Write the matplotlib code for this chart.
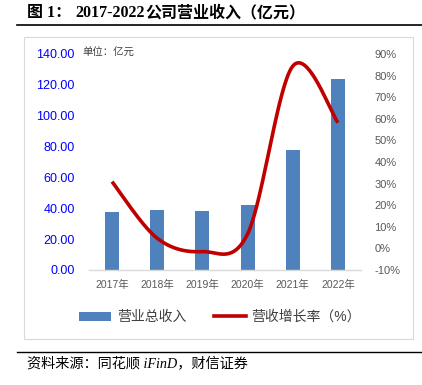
import numpy as np
import matplotlib
matplotlib.use("Agg")
import matplotlib.pyplot as plt
from matplotlib.lines import Line2D
from matplotlib.patches import Patch, Rectangle

years = ['2017年', '2018年', '2019年', '2020年', '2021年', '2022年']
revenue = [37.4, 39.1, 38.2, 42.1, 77.8, 123.6]
growth = [30.9, 4.7, -1.5, 6.7, 84.4, 58.2]
left_ticks = [0, 20, 40, 60, 80, 100, 120, 140]
right_ticks = [-10, 0, 10, 20, 30, 40, 50, 60, 70, 80, 90]

CJK = ['Liberation Sans', 'Noto Sans CJK SC']
SERIF = ['Liberation Serif', 'Noto Sans CJK SC']
plt.rcParams['font.family'] = CJK

W, H = 422, 385
fig = plt.figure(figsize=(W / 100, H / 100), dpi=100)

def fx(px):
    return px / W

def fy(py):
    return 1 - py / H

# title (in pieces to match spacing)
tkw = dict(fontsize=11.5, fontweight='bold', family=SERIF, va='center', ha='left', color='black')
fig.text(fx(27), fy(13), '图 1：', **tkw)
fig.text(fx(75), fy(13), '2017-2022', **tkw)
fig.text(fx(145), fy(13), '公司营业收入（亿元）', **tkw)
fig.add_artist(Line2D([fx(17), fx(422)], [fy(25), fy(25)], color='black', lw=1.2))
# chart frame
fig.add_artist(Rectangle((fx(24), fy(339)), fx(413) - fx(24), fy(37) - fy(339),
                         fill=False, edgecolor='#d9d9d9', lw=0.8))
# bottom line and source
fig.add_artist(Line2D([fx(17), fx(422)], [fy(352), fy(352)], color='black', lw=1.0))
fig.text(fx(27), fy(364), '资料来源：同花顺 iFinD，财信证券', fontsize=10.2, style='italic',
         family=SERIF, va='center', ha='left', color='black')

ax = fig.add_axes([fx(89.4), fy(270), fx(360.6) - fx(89.4), fy(54) - fy(270)])
x = np.arange(len(years))
ax.bar(x, revenue, width=0.31, color='#4F81BD', zorder=2)
ax.set_xlim(-0.5, len(years) - 0.5)
ax.set_ylim(0, 140)
ax.set_yticks(left_ticks)
ax.set_yticklabels([f'{v:.2f}' for v in left_ticks], color='#0000FF', fontsize=9)
ax.set_xticks(x)
ax.set_xticklabels(years, color='#595959', fontsize=7.5)
ax.tick_params(axis='y', length=0, pad=10.5)
ax.tick_params(axis='x', length=0, pad=7)
for s in ['top', 'left', 'right']:
    ax.spines[s].set_visible(False)
ax.spines['bottom'].set_color('#d9d9d9')
ax.spines['bottom'].set_linewidth(1.0)
ax.patch.set_alpha(0)

ax2 = ax.twinx()
ax2.set_ylim(-10, 90)
ax2.set_yticks(right_ticks)
ax2.set_yticklabels([f'{v}%' for v in right_ticks], color='#595959', fontsize=8)
ax2.tick_params(axis='y', length=0, pad=10)
for s in ax2.spines.values():
    s.set_visible(False)

# smoothed line (Catmull-Rom Bezier, like Excel's smoothing)
g = np.array(growth, dtype=float)
xs_all, ys_all = [], []
n = len(g)
for i in range(n - 1):
    p0 = np.array([x[max(i - 1, 0)], g[max(i - 1, 0)]])
    p1 = np.array([x[i], g[i]])
    p2 = np.array([x[i + 1], g[i + 1]])
    p3 = np.array([x[min(i + 2, n - 1)], g[min(i + 2, n - 1)]])
    c1 = p1 + (p2 - p0) / 6
    c2 = p2 - (p3 - p1) / 6
    t = np.linspace(0, 1, 40)[:, None]
    pts = (1 - t) ** 3 * p1 + 3 * (1 - t) ** 2 * t * c1 + 3 * (1 - t) * t ** 2 * c2 + t ** 3 * p2
    xs_all.extend(pts[:, 0]); ys_all.extend(pts[:, 1])
ax2.plot(xs_all, ys_all, color='#C00000', lw=2.6, solid_capstyle='butt', zorder=3)

fig.text(fx(82.7), fy(53), '单位：亿元', fontsize=7.5, color='#404040', va='center', ha='left')

handles = [Patch(facecolor='#4F81BD', edgecolor='none'),
           Line2D([0], [0], color='#C00000', lw=2.6)]
fig.legend(handles, ['营业总收入', '营收增长率（%）'], loc='center',
           bbox_to_anchor=(fx(220), fy(317)), ncol=2, frameon=False, fontsize=10,
           handlelength=2.3, handleheight=0.6, columnspacing=2.0, handletextpad=0.4,
           labelcolor='#404040')

fig.savefig('out.png', dpi=100)
